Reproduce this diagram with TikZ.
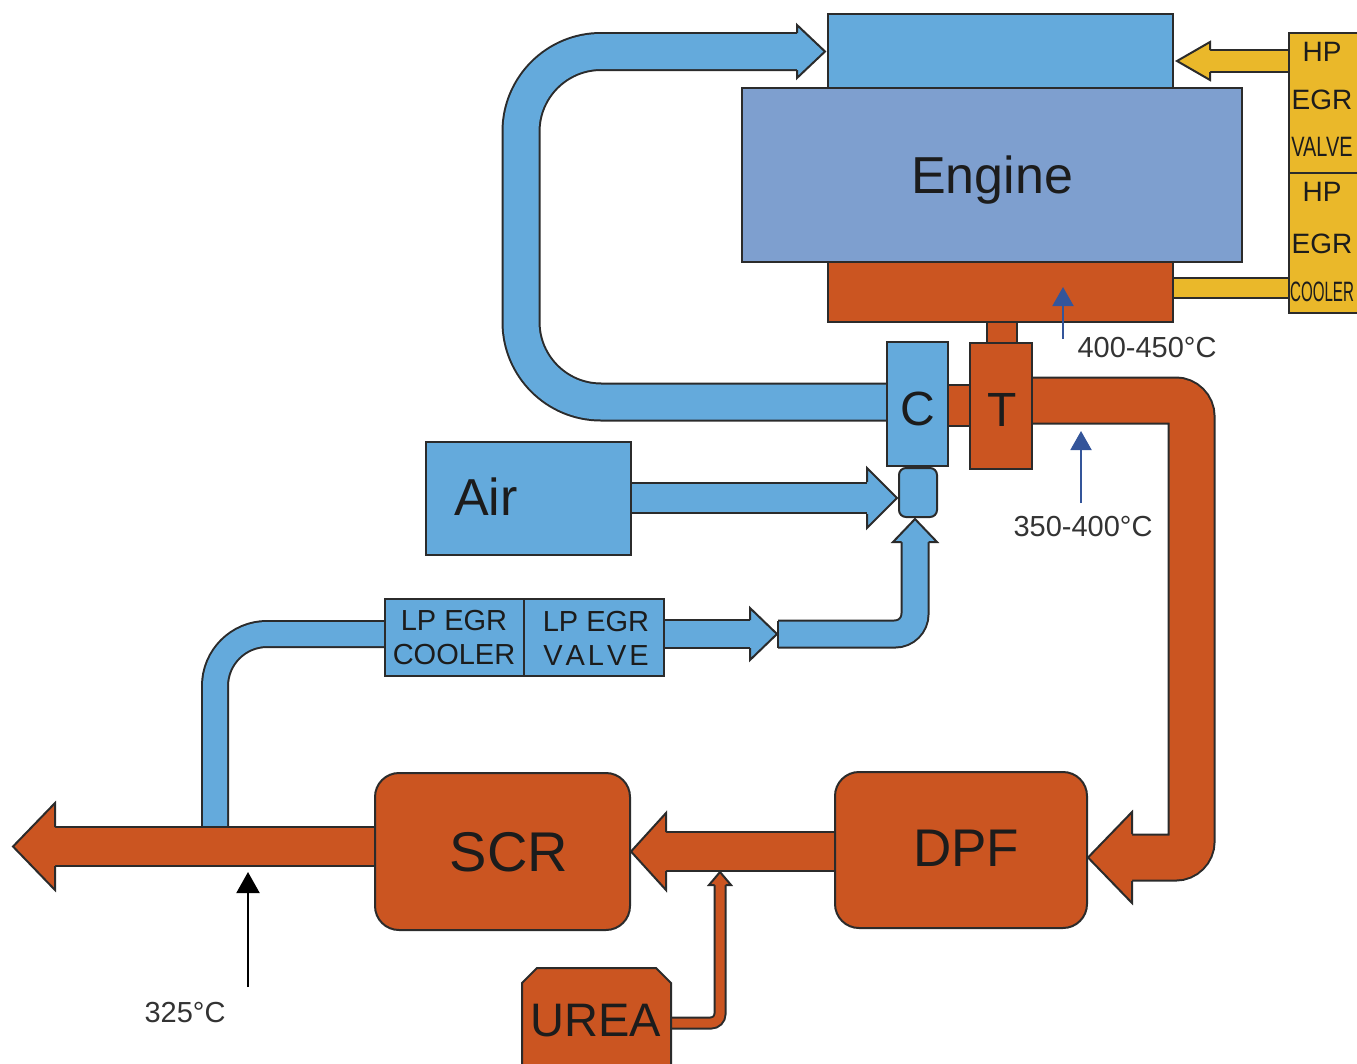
\documentclass[tikz,border=0pt]{standalone}
\usepackage{fontspec}
\setmainfont{Liberation Sans}
\usetikzlibrary{arrows.meta}
\definecolor{cblue}{HTML}{64AADC}
\definecolor{ceng}{HTML}{7E9FCF}
\definecolor{corange}{HTML}{CB5521}
\definecolor{cyellow}{HTML}{EAB82A}
\definecolor{edge}{HTML}{2B2B2B}
\definecolor{tblue}{HTML}{34559A}
\definecolor{txt}{HTML}{1C1C1C}
\newcommand\tube[5]{%
  \draw[line width=#2, draw=edge, rounded corners=#4, line cap=butt] #5;
  \draw[line width=#3, draw=#1, rounded corners=#4, line cap=butt] #5;}
\newcommand\fathead[6]{%
  \fill[#1] #2 -- #3 -- #4 -- cycle;
  \draw[outl] #5 -- #2 -- #3 -- #4 -- #6;}
\tikzset{
  outl/.style={draw=edge, line width=2pt, line join=miter},
  box/.style={draw=edge, line width=2pt, inner sep=0pt, outer sep=0pt, anchor=north west},
  rbox/.style={box, rounded corners=24pt},
  lbl/.style={text=txt, inner sep=0pt, align=center},
  tarrow/.style={draw=tblue, line width=2pt, -{Triangle[length=19pt,width=21pt]}},
  karrow/.style={draw=black, line width=2pt, -{Triangle[length=21pt,width=23pt]}},
  temp/.style={lbl, text=black!80, font=\fontsize{29}{34}\selectfont},
}
\begin{document}
\begin{tikzpicture}[x=1pt,y=-1pt]
\useasboundingbox (0,0) rectangle (1357,1063);
\clip (0,0) rectangle (1357,1063);

% ---- tubes (pipes) ----
\tube{cblue}{39pt}{35pt}{80pt}{(900,402) -- (521,402) -- (521,51.5) -- (797,51.5)}
\tube{cblue}{28pt}{24pt}{52pt}{(390,634) -- (215,634) -- (215,830)}
\tube{cblue}{30pt}{26pt}{1pt}{(655,634) -- (750,634)}
\tube{cblue}{29pt}{25pt}{20pt}{(778,634) -- (915,634) -- (915,542)}
\draw[outl] (778,620.5) -- (778,647.5);
\tube{cblue}{32pt}{28pt}{1pt}{(625,498) -- (867,498)}
\tube{corange}{48pt}{44pt}{16pt}{(1025,400.5) -- (1191.5,400.5) -- (1191.5,857.5) -- (1132,857.5)}
\tube{corange}{41pt}{37pt}{1pt}{(840,851.5) -- (666,851.5)}
\tube{corange}{41pt}{37pt}{1pt}{(380,846.5) -- (55,846.5)}
\tube{corange}{13pt}{9pt}{9pt}{(665,1023) -- (720,1023) -- (720,885)}
\tube{cyellow}{24pt}{20pt}{1pt}{(1295,61) -- (1210,61)}
\tube{cyellow}{22pt}{18pt}{1pt}{(1165,288) -- (1295,288)}

% ---- boxes ----
\node[box, fill=cblue, minimum width=345, minimum height=74] (intake) at (828,14) {};
\node[box, fill=corange, minimum width=345, minimum height=60] (manifold) at (828,262) {};
\node[box, fill=ceng, minimum width=500, minimum height=174] (engine) at (742,88) {};
\node[box, fill=cyellow, minimum width=100, minimum height=140] (hpvalve) at (1289,33) {};
\node[box, fill=cyellow, minimum width=100, minimum height=140] (hpcooler) at (1289,173) {};
\node[box, fill=corange, minimum width=30, minimum height=21] (stub) at (987,322) {};
\node[box, fill=corange, minimum width=22, minimum height=41] (shaft) at (948,385) {};
\node[box, fill=cblue, minimum width=61, minimum height=124] (comp) at (887,342) {};
\node[box, fill=corange, minimum width=62, minimum height=126] (turb) at (970,343) {};
\node[box, fill=cblue, minimum width=38, minimum height=49, rounded corners=7pt] (mixer) at (899,468) {};
\node[box, fill=cblue, minimum width=205, minimum height=113] (air) at (426,442) {};
\node[box, fill=cblue, minimum width=139, minimum height=77] (lpcooler) at (385,599) {};
\node[box, fill=cblue, minimum width=140, minimum height=77] (lpvalve) at (524,599) {};
\node[rbox, fill=corange, minimum width=255, minimum height=157] (scr) at (375,773) {};
\node[rbox, fill=corange, minimum width=252, minimum height=156] (dpf) at (835,772) {};
\filldraw[outl, fill=corange] (522,1075) -- (522,983) -- (537,968) -- (656,968) -- (671,983) -- (671,1075);
\coordinate (urea) at (596,1021);

% ---- arrow heads ----
\fathead{cblue}{(797,25)}{(825,51.5)}{(797,78)}{(797,33)}{(797,70)}
\fathead{cblue}{(750,608)}{(777,634)}{(750,660)}{(750,620)}{(750,648)}
\fathead{cblue}{(893,542)}{(915,519)}{(937,542)}{(901.5,542)}{(928.5,542)}
\fathead{cblue}{(867,468)}{(897,498)}{(867,528)}{(867,482)}{(867,514)}
\fathead{corange}{(1132,812)}{(1088,857.5)}{(1132,903)}{(1132,834)}{(1132,881)}
\fathead{corange}{(666,813)}{(631,851.5)}{(666,890)}{(666,832)}{(666,871)}
\fathead{corange}{(55,803)}{(13,846.5)}{(55,890)}{(55,827)}{(55,866)}
\fathead{corange}{(709,885)}{(720,872)}{(731,885)}{(714.5,885)}{(725.5,885)}
\fathead{cyellow}{(1210,42)}{(1177,61)}{(1210,80)}{(1210,50)}{(1210,72)}

% ---- texts ----
\node[lbl, font=\fontsize{52}{60}\selectfont] (tengine) at (992,180) {Engine};
\node[lbl, font=\fontsize{52}{60}\selectfont] (tair) at (486,497) {Air};
\node[lbl, font=\fontsize{48}{56}\selectfont] (tc) at (918,409) {C};
\node[lbl, font=\fontsize{48}{56}\selectfont] (tt) at (1002,410) {T};
\node[lbl, font=\fontsize{29}{34}\selectfont] (tlpc) at (454,638) {LP EGR\\COOLER};
\node[lbl, font=\fontsize{29}{34}\selectfont] (tlpv) at (596,638) {LP EGR\\V\kern3pt A\kern3pt L\kern3pt V\kern3pt E};
\node[lbl, font=\fontsize{28}{32}\selectfont] (th1) at (1322,52) {HP};
\node[lbl, font=\fontsize{28}{32}\selectfont] (te1) at (1322,100) {EGR};
\node[lbl, font=\fontsize{28}{32}\selectfont] (tv1) at (1322,147) {\scalebox{0.71}[1]{VALVE}};
\node[lbl, font=\fontsize{28}{32}\selectfont] (th2) at (1322,192) {HP};
\node[lbl, font=\fontsize{28}{32}\selectfont] (te2) at (1322,244) {EGR};
\node[lbl, font=\fontsize{28}{32}\selectfont] (tc2) at (1322,292) {\scalebox{0.54}[1]{COOLER}};
\node[lbl, font=\fontsize{56}{64}\selectfont] (tscr) at (509,852) {SCR};
\node[lbl, font=\fontsize{53}{60}\selectfont] (tdpf) at (966,848) {DPF};
\node[lbl, font=\fontsize{47}{56}\selectfont] (turea) at (urea) {UREA};

% ---- temperature markers ----
\coordinate (a1s) at (1063,339); \coordinate (a1e) at (1063,287);
\coordinate (a2s) at (1081,503); \coordinate (a2e) at (1081,431);
\coordinate (a3s) at (248,987);  \coordinate (a3e) at (248,872);
\draw[tarrow] (a1s) -- (a1e);
\draw[tarrow] (a2s) -- (a2e);
\draw[karrow] (a3s) -- (a3e);
\node[temp] (t1) at (1147,348) {400-450°C};
\node[temp] (t2) at (1083,527) {350-400°C};
\node[temp] (t3) at (185,1013) {325°C};
\end{tikzpicture}
\end{document}
